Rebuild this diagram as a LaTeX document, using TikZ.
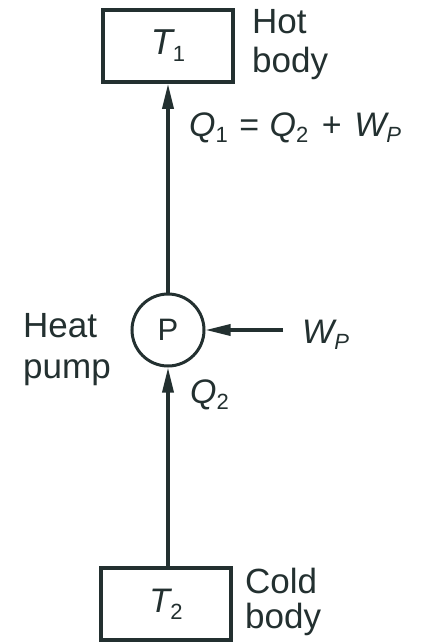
\documentclass[tikz,border=0pt]{standalone}
\usepackage{fontspec}
\setmainfont{Liberation Sans}
\usetikzlibrary{arrows.meta}
\definecolor{ink}{RGB}{35,48,48}
\newcommand{\lbl}{\fontsize{35}{38}\selectfont}
\newcommand{\mth}{\fontsize{34}{36}\selectfont\itshape}
\newcommand{\sbs}[1]{\raisebox{-0.2em}{\fontsize{22}{23}\selectfont #1}}
\begin{document}
\begin{tikzpicture}[x=1pt,y=-1pt,
  box/.style={draw=ink, line width=3.5pt, minimum width=130pt, minimum height=72pt, inner sep=0pt, text=ink},
  pumpc/.style={circle, draw=ink, line width=3pt, minimum size=72pt, inner sep=0pt, text=ink},
  flow/.style={draw=ink, line width=3.5pt, -{Triangle[length=25pt,width=11pt]}},
  txt/.style={anchor=base west, inner sep=0pt, text=ink}]
\useasboundingbox (0,0) rectangle (426,643);
\fill[white] (0,0) rectangle (426,643);
\node[box] (T1) at (168,46) {\fontsize{36}{38}\selectfont\itshape T\sbs{\upshape 1}};
\node[box] (T2) at (166,604) {\fontsize{34}{36}\selectfont\itshape T\sbs{\upshape 2}};
\node[pumpc] (P) at (168,330) {\fontsize{31}{33}\selectfont P};
\coordinate (wstart) at (283,330);
\draw[flow] (P) -- (T1);
\draw[flow] (T2.north -| P) -- (P);
\draw[flow] (wstart) -- (P);
\node[txt] (hot) at (252,33) {\lbl Hot};
\node[txt] (hotb) at (252,72) {\lbl body};
\node[txt] (q1) at (189,136) {\mth Q\sbs{\upshape 1}\hspace{11pt}=\hspace{11pt}Q\sbs{\upshape 2}\hspace{13pt}+\hspace{13pt}W\sbs{P}};
\node[txt] (heat) at (23,337) {\lbl Heat};
\node[txt] (pumpt) at (23,378) {\lbl pump};
\node[txt] (wp) at (302,343) {\mth W\sbs{P}};
\node[txt] (q2) at (190,403) {\mth Q\sbs{\upshape 2}};
\node[txt] (cold) at (245,593) {\lbl Cold};
\node[txt] (coldb) at (245,628) {\lbl body};
\end{tikzpicture}
\end{document}
